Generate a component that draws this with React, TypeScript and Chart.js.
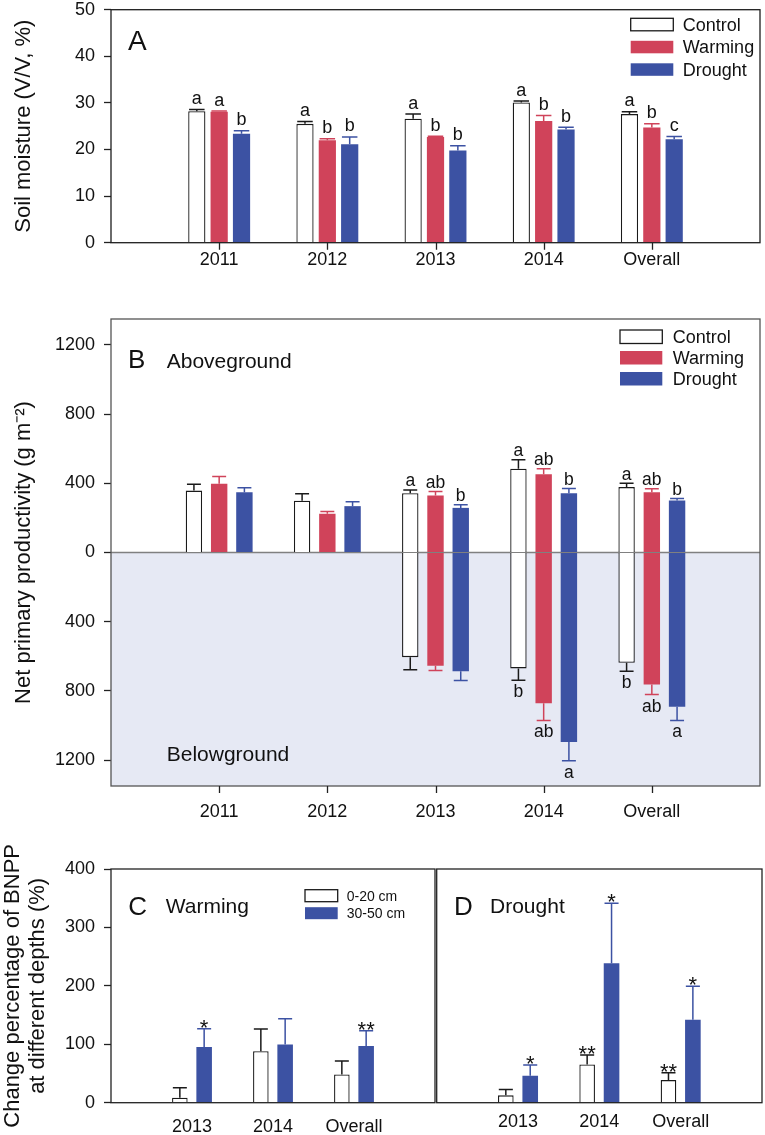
import React, { useEffect, useRef } from "react";
import { Chart, registerables } from "chart.js";

Chart.register(...registerables);

const FONT = "'Liberation Sans', Arial, Helvetica, sans-serif";
const INK = "#111111";
const RED = "#d0435a";
const BLUE = "#3c52a3";
const WHITE = "#ffffff";

// ---------- Panel A: soil moisture ----------
const yearLabels = ["", "2011", "2012", "2013", "2014", "Overall", ""];
const treatmentNames = ["Control", "Warming", "Drought"];

const moistureControl = [null, 28.2, 25.5, 26.6, 30.1, 27.6, null];
const moistureControlSE = [null, 0.4, 0.5, 1.0, 0.3, 0.5, null];
const moistureWarming = [null, 28.1, 22.0, 22.7, 26.1, 24.7, null];
const moistureWarmingSE = [null, 0.15, 0.3, 0.15, 1.2, 0.8, null];
const moistureDrought = [null, 23.4, 21.1, 19.8, 24.3, 22.2, null];
const moistureDroughtSE = [null, 0.6, 1.6, 1.0, 0.5, 0.6, null];
const moistureControlLetters = ["", "a", "a", "a", "a", "a", ""];
const moistureWarmingLetters = ["", "a", "b", "b", "b", "b", ""];
const moistureDroughtLetters = ["", "b", "b", "b", "b", "c", ""];
const moistureTicks = [0, 10, 20, 30, 40, 50];

// ---------- Panel B: net primary productivity ----------
const anppControl = [null, 358, 299, 343, 484, 378, null];
const anppControlSE = [null, 37, 40, 19, 52, 23, null];
const anppWarming = [null, 397, 224, 330, 453, 349, null];
const anppWarmingSE = [null, 42, 13, 23, 31, 19, null];
const anppDrought = [null, 349, 268, 258, 343, 301, null];
const anppDroughtSE = [null, 25, 25, 18, 27, 11, null];
const bnppControl = [null, null, null, -605, -670, -638, null];
const bnppControlSE = [null, null, null, 73, 68, 48, null];
const bnppWarming = [null, null, null, -655, -871, -763, null];
const bnppWarmingSE = [null, null, null, 27, 100, 58, null];
const bnppDrought = [null, null, null, -686, -1096, -892, null];
const bnppDroughtSE = [null, null, null, 54, 108, 79, null];
const anppControlLetters = ["", "", "", "a", "a", "a", ""];
const anppWarmingLetters = ["", "", "", "ab", "ab", "ab", ""];
const anppDroughtLetters = ["", "", "", "b", "b", "b", ""];
const bnppControlLetters = ["", "", "", "", "b", "b", ""];
const bnppWarmingLetters = ["", "", "", "", "ab", "ab", ""];
const bnppDroughtLetters = ["", "", "", "", "a", "a", ""];
const nppTickValues = [-1200, -800, -400, 0, 400, 800, 1200];
const nppTickLabels = ["1200", "800", "400", "0", "400", "800", "1200"];

// ---------- Panels C & D: change of BNPP at depths ----------
const depthYearLabels = ["", "2013", "2014", "Overall", ""];
const depthNames = ["0-20 cm", "30-50 cm"];
const warmShallow = [null, 8.5, 88, 48.3, null];
const warmShallowSE = [null, 17, 38, 23, null];
const warmDeep = [null, 95.4, 99.5, 97, null];
const warmDeepSE = [null, 31, 44, 26, null];
const warmShallowStars = ["", "", "", "", ""];
const warmDeepStars = ["", "*", "", "**", ""];
const droughtShallow = [null, 12.6, 65.4, 38.7, null];
const droughtShallowSE = [null, 10, 16.4, 12.4, null];
const droughtDeep = [null, 46, 238.5, 142, null];
const droughtDeepSE = [null, 18.7, 103, 57.3, null];
const droughtShallowStars = ["", "", "**", "**", ""];
const droughtDeepStars = ["", "*", "*", "*", ""];
const changeTicks = [0, 100, 200, 300, 400];

// ---------- plugins ----------
type ErrOpts = {
  lineWidth: number;
  capRatio: number;
  markSize: number;
  aboveGap: number;
  belowGap: number;
};

function makeErrorBars(o: ErrOpts) {
  return {
    id: "errorBars",
    afterDatasetsDraw(chart: any) {
      const ctx = chart.ctx;
      const yScale = chart.scales.y;
      chart.data.datasets.forEach((ds: any, di: number) => {
        const meta = chart.getDatasetMeta(di);
        meta.data.forEach((bar: any, i: number) => {
          const v = ds.data[i];
          if (v == null) return;
          const e = ds.errors ? ds.errors[i] : null;
          const sign = v < 0 ? -1 : 1;
          let yEnd = bar.y;
          if (e != null) {
            yEnd = yScale.getPixelForValue(v + sign * e);
            const half = (bar.width * o.capRatio) / 2;
            ctx.save();
            ctx.strokeStyle = ds.errorColor;
            ctx.lineWidth = o.lineWidth;
            ctx.beginPath();
            ctx.moveTo(bar.x, bar.y);
            ctx.lineTo(bar.x, yEnd);
            ctx.moveTo(bar.x - half, yEnd);
            ctx.lineTo(bar.x + half, yEnd);
            ctx.stroke();
            ctx.restore();
          }
          const mark = ds.marks ? ds.marks[i] : "";
          if (mark) {
            ctx.save();
            ctx.fillStyle = INK;
            ctx.font = `${o.markSize}px ${FONT}`;
            ctx.textAlign = "center";
            ctx.textBaseline = "alphabetic";
            const y = sign > 0 ? yEnd - o.aboveGap : yEnd + o.belowGap;
            ctx.fillText(mark, bar.x, y);
            ctx.restore();
          }
        });
      });
    },
  };
}

// frame round the plot area, plus x tick marks under every labelled category
function makeFrame(color: string, width: number, xTickLen: number) {
  return {
    id: "frame",
    afterDraw(chart: any) {
      const { ctx, chartArea: a } = chart;
      ctx.save();
      ctx.strokeStyle = color;
      ctx.lineWidth = width;
      ctx.strokeRect(a.left, a.top, a.right - a.left, a.bottom - a.top);
      if (xTickLen > 0) {
        const xs = chart.scales.x;
        const labels = chart.data.labels;
        ctx.strokeStyle = "#222";
        ctx.beginPath();
        labels.forEach((lab: string, i: number) => {
          if (!lab) return;
          const px = Math.round(xs.getPixelForTick(i)) + 0.5;
          ctx.moveTo(px, a.bottom);
          ctx.lineTo(px, a.bottom + xTickLen);
        });
        ctx.stroke();
      }
      ctx.restore();
    },
  };
}

function makeBelowShade(fill: string, lineColor: string) {
  return {
    id: "belowShade",
    beforeDatasetsDraw(chart: any) {
      const { ctx, chartArea: a } = chart;
      const y0 = chart.scales.y.getPixelForValue(0);
      ctx.save();
      ctx.fillStyle = fill;
      ctx.fillRect(a.left, y0, a.right - a.left, a.bottom - y0);
      ctx.strokeStyle = lineColor;
      ctx.lineWidth = 1.5;
      ctx.beginPath();
      ctx.moveTo(a.left, y0);
      ctx.lineTo(a.right, y0);
      ctx.stroke();
      ctx.restore();
    },
  };
}

type Note = { text: string; dx: number; dy: number; size: number; fromBottom?: boolean };
function makeNotes(items: Note[]) {
  return {
    id: "notes",
    afterDraw(chart: any) {
      const { ctx, chartArea: a } = chart;
      items.forEach((it) => {
        ctx.save();
        ctx.fillStyle = INK;
        ctx.font = `${it.size}px ${FONT}`;
        ctx.textAlign = "left";
        ctx.textBaseline = "alphabetic";
        const y = it.fromBottom ? a.bottom - it.dy : a.top + it.dy;
        ctx.fillText(it.text, a.left + it.dx, y);
        ctx.restore();
      });
    },
  };
}

type KeyOpts = {
  fromRight: number;
  top: number;
  boxW: number;
  boxH: number;
  step: number;
  textGap: number;
  size: number;
  items: { label: string; fill: string; stroke?: string }[];
};
function makeKey(o: KeyOpts) {
  return {
    id: "keyBox",
    afterDraw(chart: any) {
      const { ctx, chartArea: a } = chart;
      const x = a.right - o.fromRight;
      o.items.forEach((it, i) => {
        const y = a.top + o.top + i * o.step;
        ctx.save();
        ctx.fillStyle = it.fill;
        ctx.fillRect(x, y, o.boxW, o.boxH);
        if (it.stroke) {
          ctx.strokeStyle = it.stroke;
          ctx.lineWidth = 1.3;
          ctx.strokeRect(x, y, o.boxW, o.boxH);
        }
        ctx.fillStyle = INK;
        ctx.font = `${o.size}px ${FONT}`;
        ctx.textAlign = "left";
        ctx.textBaseline = "middle";
        ctx.fillText(it.label, x + o.boxW + o.textGap, y + o.boxH / 2 + 1);
        ctx.restore();
      });
    },
  };
}

const tickFont = { family: FONT, size: 18 };
const titleFont = { family: FONT, size: 22 };

function yAxis(min: number, max: number, values: number[], labels: string[] | null, title: any, width: number) {
  return {
    type: "linear",
    min,
    max,
    afterBuildTicks: (s: any) => {
      s.ticks = values.map((v) => ({ value: v }));
    },
    afterFit: (s: any) => {
      s.width = width;
      s.paddingTop = 0;
      s.paddingBottom = 0;
    },
    grid: { drawOnChartArea: false, drawTicks: true, tickLength: 7, tickWidth: 1.3, tickColor: "#222" },
    border: { display: false },
    ticks: {
      font: tickFont,
      color: INK,
      padding: 9,
      callback: (v: any, i: number) => (labels ? labels[i] : String(v)),
    },
    title,
  };
}

// x labels sit (tick gap + padding) below the axis; tick marks are drawn by the frame plugin
function xAxis(height: number, labelGap: number) {
  return {
    type: "category",
    offset: false,
    afterFit: (s: any) => {
      s.height = height;
      s.paddingLeft = 0;
      s.paddingRight = 0;
    },
    grid: { offset: false, display: false, drawTicks: false, drawOnChartArea: false },
    border: { display: false },
    ticks: { font: tickFont, color: INK, padding: labelGap, autoSkip: false, maxRotation: 0, minRotation: 0 },
  };
}

function baseOptions(padding: any) {
  return {
    responsive: false,
    maintainAspectRatio: false,
    animation: false,
    events: [],
    layout: { padding },
    plugins: { legend: { display: false }, tooltip: { enabled: false } },
  };
}

function buildA() {
  return {
    type: "bar",
    data: {
      labels: yearLabels,
      datasets: [
        { label: treatmentNames[0], data: moistureControl, errors: moistureControlSE, marks: moistureControlLetters, errorColor: "#1a1a1a", backgroundColor: WHITE, borderColor: "#1a1a1a", borderWidth: 1.3 },
        { label: treatmentNames[1], data: moistureWarming, errors: moistureWarmingSE, marks: moistureWarmingLetters, errorColor: RED, backgroundColor: RED, borderWidth: 0 },
        { label: treatmentNames[2], data: moistureDrought, errors: moistureDroughtSE, marks: moistureDroughtLetters, errorColor: BLUE, backgroundColor: BLUE, borderWidth: 0 },
      ],
    },
    options: {
      ...baseOptions({ left: 0, top: 9.7, right: 5, bottom: 0 }),
      datasets: { bar: { categoryPercentage: 0.62, barPercentage: 0.77 } },
      scales: {
        x: xAxis(37.3, 6.5),
        y: yAxis(0, 50, moistureTicks, null, { display: true, text: "Soil moisture (V/V, %)", font: titleFont, color: INK, padding: { top: 11, bottom: 0 } }, 111),
      },
    },
    plugins: [
      makeErrorBars({ lineWidth: 1.5, capRatio: 0.9, markSize: 18, aboveGap: 5.5, belowGap: 17 }),
      makeFrame("#1e1e1e", 1.3, 7),
      makeNotes([{ text: "A", dx: 17, dy: 40.3, size: 28 }]),
      makeKey({
        fromRight: 129.3,
        top: 8.6,
        boxW: 42.6,
        boxH: 12.5,
        step: 22.5,
        textGap: 9.5,
        size: 18,
        items: [
          { label: treatmentNames[0], fill: WHITE, stroke: "#1a1a1a" },
          { label: treatmentNames[1], fill: RED },
          { label: treatmentNames[2], fill: BLUE },
        ],
      }),
    ],
  };
}

function buildB() {
  return {
    type: "bar",
    data: {
      labels: yearLabels,
      datasets: [
        { label: treatmentNames[0], stack: "c", data: anppControl, errors: anppControlSE, marks: anppControlLetters, errorColor: "#1a1a1a", backgroundColor: WHITE, borderColor: "#1a1a1a", borderWidth: 1.3 },
        { label: treatmentNames[1], stack: "w", data: anppWarming, errors: anppWarmingSE, marks: anppWarmingLetters, errorColor: RED, backgroundColor: RED, borderWidth: 0 },
        { label: treatmentNames[2], stack: "d", data: anppDrought, errors: anppDroughtSE, marks: anppDroughtLetters, errorColor: BLUE, backgroundColor: BLUE, borderWidth: 0 },
        { label: treatmentNames[0], stack: "c", data: bnppControl, errors: bnppControlSE, marks: bnppControlLetters, errorColor: "#1a1a1a", backgroundColor: WHITE, borderColor: "#1a1a1a", borderWidth: 1.3 },
        { label: treatmentNames[1], stack: "w", data: bnppWarming, errors: bnppWarmingSE, marks: bnppWarmingLetters, errorColor: RED, backgroundColor: RED, borderWidth: 0 },
        { label: treatmentNames[2], stack: "d", data: bnppDrought, errors: bnppDroughtSE, marks: bnppDroughtLetters, errorColor: BLUE, backgroundColor: BLUE, borderWidth: 0 },
      ],
    },
    options: {
      ...baseOptions({ left: 0, top: 29, right: 5, bottom: 0 }),
      datasets: { bar: { categoryPercentage: 0.7, barPercentage: 0.65 } },
      scales: {
        x: { ...xAxis(44, 15), stacked: true },
        y: {
          ...yAxis(-1350, 1350, nppTickValues, nppTickLabels, { display: true, text: "Net primary productivity (g m\u207B\u00B2)", font: titleFont, color: INK, padding: { top: 11, bottom: 0 } }, 111),
          stacked: true,
        },
      },
    },
    plugins: [
      makeBelowShade("#e6e9f4", "#808080"),
      makeErrorBars({ lineWidth: 1.5, capRatio: 0.85, markSize: 17.5, aboveGap: 3.5, belowGap: 17 }),
      makeFrame("#555555", 1.3, 7),
      makeNotes([
        { text: "B", dx: 17, dy: 49.3, size: 26 },
        { text: "Aboveground", dx: 55.7, dy: 49, size: 21 },
        { text: "Belowground", dx: 55.7, dy: 25.5, size: 21, fromBottom: true },
      ]),
      makeKey({
        fromRight: 140,
        top: 11,
        boxW: 42.3,
        boxH: 13.5,
        step: 21,
        textGap: 10.4,
        size: 18,
        items: [
          { label: treatmentNames[0], fill: WHITE, stroke: "#1a1a1a" },
          { label: treatmentNames[1], fill: RED },
          { label: treatmentNames[2], fill: BLUE },
        ],
      }),
    ],
  };
}

function depthDatasets(shallow: any[], shallowSE: any[], shallowStars: string[], deep: any[], deepSE: any[], deepStars: string[]) {
  return [
    { label: depthNames[0], data: shallow, errors: shallowSE, marks: shallowStars, errorColor: "#1a1a1a", backgroundColor: WHITE, borderColor: "#1a1a1a", borderWidth: 1.3 },
    { label: depthNames[1], data: deep, errors: deepSE, marks: deepStars, errorColor: BLUE, backgroundColor: BLUE, borderWidth: 0 },
  ];
}

const starOpts = { lineWidth: 1.5, capRatio: 0.9, markSize: 22, aboveGap: -6.1, belowGap: 17 };

function buildC() {
  return {
    type: "bar",
    data: {
      labels: depthYearLabels,
      datasets: depthDatasets(warmShallow, warmShallowSE, warmShallowStars, warmDeep, warmDeepSE, warmDeepStars),
    },
    options: {
      ...baseOptions({ left: 0, top: 29, right: 1, bottom: 0 }),
      datasets: { bar: { categoryPercentage: 0.6, barPercentage: 0.64 } },
      scales: {
        x: xAxis(32.3, 13.5),
        y: yAxis(0, 400, changeTicks, null, {
          display: true,
          text: ["Change percentage of BNPP", "at different depths (%)"],
          font: { family: FONT, size: 22, lineHeight: 1.15 },
          color: INK,
          padding: { top: 0, bottom: 0 },
        }, 111),
      },
    },
    plugins: [
      makeErrorBars(starOpts),
      makeFrame("#222222", 1.3, 0),
      makeNotes([
        { text: "C", dx: 17.3, dy: 46, size: 26 },
        { text: "Warming", dx: 54.7, dy: 44, size: 21 },
      ]),
      makeKey({
        fromRight: 130,
        top: 20.7,
        boxW: 32.7,
        boxH: 12,
        step: 17.5,
        textGap: 9,
        size: 14,
        items: [
          { label: depthNames[0], fill: WHITE, stroke: "#1a1a1a" },
          { label: depthNames[1], fill: BLUE },
        ],
      }),
    ],
  };
}

function buildD() {
  return {
    type: "bar",
    data: {
      labels: depthYearLabels,
      datasets: depthDatasets(droughtShallow, droughtShallowSE, droughtShallowStars, droughtDeep, droughtDeepSE, droughtDeepStars),
    },
    options: {
      ...baseOptions({ left: 0.7, top: 29, right: 3, bottom: 0 }),
      datasets: { bar: { categoryPercentage: 0.6, barPercentage: 0.64 } },
      scales: {
        x: xAxis(32.3, 9),
        y: { type: "linear", min: 0, max: 400, display: false },
      },
    },
    plugins: [
      makeErrorBars(starOpts),
      makeFrame("#222222", 1.3, 0),
      makeNotes([
        { text: "D", dx: 17.3, dy: 46, size: 26 },
        { text: "Drought", dx: 53.3, dy: 44, size: 21 },
      ]),
    ],
  };
}

function ChartBox(props: { left: number; top: number; width: number; height: number; build: () => any }) {
  const ref = useRef<HTMLCanvasElement | null>(null);
  useEffect(() => {
    if (!ref.current) return;
    const chart = new Chart(ref.current, props.build());
    return () => chart.destroy();
  }, []);
  return (
    <canvas
      ref={ref}
      width={props.width}
      height={props.height}
      style={{ position: "absolute", left: props.left, top: props.top, width: props.width, height: props.height }}
    />
  );
}

export default function App() {
  return (
    <div style={{ position: "absolute", left: 0, top: 0, width: 765, height: 1135, background: "#ffffff", overflow: "hidden" }}>
      <ChartBox left={0} top={0} width={765} height={280} build={buildA} />
      <ChartBox left={0} top={290} width={765} height={540} build={buildB} />
      <ChartBox left={0} top={840} width={436} height={295} build={buildC} />
      <ChartBox left={436} top={840} width={329} height={295} build={buildD} />
    </div>
  );
}
